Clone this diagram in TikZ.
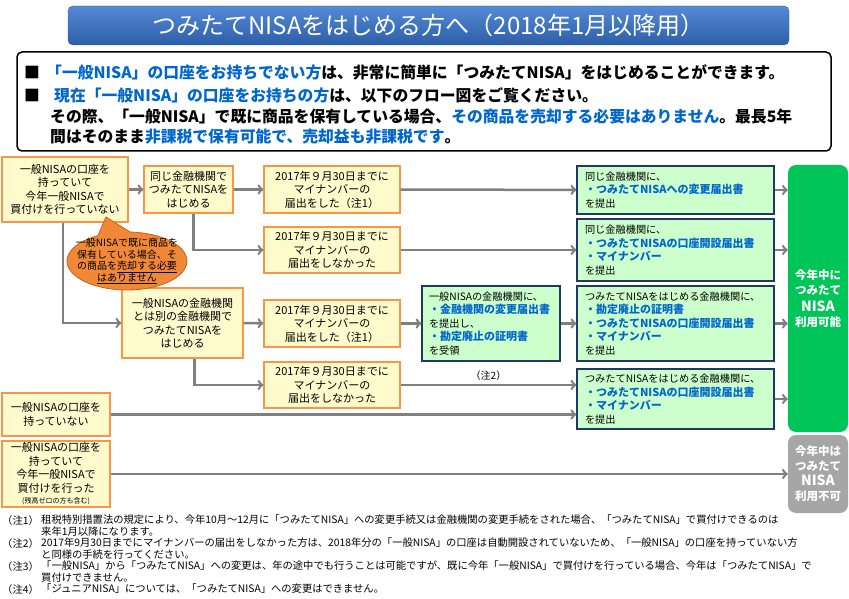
\documentclass[tikz,border=0pt]{standalone}
\usepackage{fontspec}
\setmainfont{Noto Sans CJK JP}
\usetikzlibrary{shapes.callouts}
\definecolor{titleA}{RGB}{86,138,214}
\definecolor{titleB}{RGB}{44,94,168}
\definecolor{hblue}{RGB}{0,102,204}
\definecolor{yfill}{RGB}{255,250,204}
\definecolor{yline}{RGB}{247,150,70}
\definecolor{gfill}{RGB}{204,255,204}
\definecolor{gline}{RGB}{31,56,100}
\definecolor{okgreen}{RGB}{0,198,90}
\definecolor{nggray}{RGB}{166,166,166}
\definecolor{arrgray}{RGB}{128,128,128}
\definecolor{balloon}{RGB}{240,136,56}
\definecolor{balloonline}{RGB}{196,98,30}
\newcommand{\hl}[1]{{\bfseries\fontsize{11}{13.5}\selectfont\color{hblue}#1}}
\tikzset{x=1pt, y=-1pt,
  ybox/.style={draw=yline, fill=yfill, line width=1.2pt, align=center, inner sep=0pt, font=\fontsize{11}{13.5}\selectfont},
  gbox/.style={draw=gline, fill=gfill, line width=1.2pt, align=left, inner xsep=8pt, inner ysep=0pt, font=\fontsize{10.2}{13.5}\selectfont},
  endbox/.style={rounded corners=8pt, text=white, align=center, minimum width=60, font=\bfseries\fontsize{11.5}{15}\selectfont},
  conn/.style={->, draw=arrgray, line width=2.5pt},
  info/.style={inner sep=0pt, anchor=base west, font=\bfseries\fontsize{15.8}{18}\selectfont},
  note/.style={inner sep=0pt, anchor=north west, align=left, font=\fontsize{10.3}{11.5}\selectfont}
}
\begin{document}
\begin{tikzpicture}
\useasboundingbox (0,0) rectangle (849,599);

\node (title) [top color=titleA, bottom color=titleB, draw=titleB, rounded corners=5pt, minimum width=721, minimum height=39, text=white, font=\fontsize{24}{28}\selectfont] at (428.5,25.5) {つみたてNISAをはじめる方へ（2018年1月以降用）};

\node (info) [draw, line width=1.5pt, rounded corners=5pt, minimum width=814, minimum height=99] at (424,101.5) {};
\node[info] at (24,79) {■};
\node[info] at (46,79) {\textcolor{hblue}{「一般NISA」の口座をお持ちでない方}は、非常に簡単に「つみたてNISA」をはじめることができます。};
\node[info] at (24,102) {■};
\node[info] at (54,102) {\textcolor{hblue}{現在「一般NISA」の口座をお持ちの方}は、以下のフロー図をご覧ください。};
\node[info] at (50,123) {その際、「一般NISA」で既に商品を保有している場合、\textcolor{hblue}{その商品を売却する必要はありません}。最長5年};
\node[info] at (50,143) {間はそのまま\textcolor{hblue}{非課税で保有可能で、売却益も非課税です}。};

\node (a) [ybox, minimum width=126, minimum height=65] at (65,189.5) {一般NISAの口座を\\持っていて\\今年一般NISAで\\買付けを行っていない};
\node (b) [ybox, minimum width=89, minimum height=47] at (188.5,189.5) {同じ金融機関で\\つみたてNISAを\\はじめる};
\node (c) [ybox, minimum width=136, minimum height=47] at (332,189.5) {2017年９月30日までに\\マイナンバーの\\届出をした（注1）};
\node (d) [ybox, minimum width=136, minimum height=46] at (332,250) {2017年９月30日までに\\マイナンバーの\\届出をしなかった};
\node (e) [ybox, minimum width=121, minimum height=70] at (182.5,323) {一般NISAの金融機関\\とは別の金融機関で\\つみたてNISAを\\はじめる};
\node (f) [ybox, minimum width=136, minimum height=47] at (332,323.5) {2017年９月30日までに\\マイナンバーの\\届出をした（注1）};
\node (g) [ybox, minimum width=136, minimum height=46] at (332,385) {2017年９月30日までに\\マイナンバーの\\届出をしなかった};
\node (h) [ybox, minimum width=108, minimum height=43] at (56,414.5) {一般NISAの口座を\\持っていない};
\node (i) [ybox, minimum width=108, minimum height=66] at (56,474) {一般NISAの口座を\\持っていて\\今年一般NISAで\\買付けを行った\\[-2pt]{\fontsize{7}{8}\selectfont (残高ゼロの方も含む)}};

\node (j) [gbox, text width=181, minimum height=48] at (675.5,190) {同じ金融機関に、\\\hl{・つみたてNISAへの変更届出書}\\を提出};
\node (k) [gbox, text width=181, minimum height=62] at (675.5,250) {同じ金融機関に、\\\hl{・つみたてNISAの口座開設届出書}\\\hl{・マイナンバー}\\を提出};
\node (l) [gbox, inner xsep=7pt, text width=124, minimum height=75] at (491,323.5) {一般NISAの金融機関に、\\\hl{・金融機関の変更届出書}\\を提出し、\\\hl{・勘定廃止の証明書}\\を受領};
\node (m) [gbox, text width=181, minimum height=75] at (675.5,323.5) {つみたてNISAをはじめる金融機関に、\\\hl{・勘定廃止の証明書}\\\hl{・つみたてNISAの口座開設届出書}\\\hl{・マイナンバー}\\を提出};
\node (n) [gbox, text width=181, minimum height=60] at (675.5,399) {つみたてNISAをはじめる金融機関に、\\\hl{・つみたてNISAの口座開設届出書}\\\hl{・マイナンバー}\\を提出};

\node (ok) [endbox, fill=okgreen, minimum height=267] at (818,298.5) {今年中に\\つみたて\\[2pt]{\fontsize{14}{16}\selectfont NISA}\\利用可能};
\node (ng) [endbox, fill=nggray, minimum height=78] at (818,474) {今年中は\\つみたて\\{\fontsize{14}{16}\selectfont NISA}\\利用不可};

\draw[conn] (a) -- (b);
\draw[conn] (b) -- (c);
\draw[conn] ([xshift=5]b.south) |- (d);
\draw[conn] (c) -- (j);
\draw[conn] (d) -- (k);
\draw[conn] ([xshift=-2]a.south) |- (e);
\draw[conn] (e) -- (f);
\draw[conn] ([xshift=12]e.south) |- (g);
\draw[conn] (f) -- (l);
\draw[conn] (l) -- (m);
\draw[conn] (g.east) -- (g.east -| n.west) node[midway, above, font=\fontsize{10}{12}\selectfont] {（注2）};
\draw[conn] (h.east) -- (h.east -| n.west);
\draw[conn] (i) -- (ng);
\draw[conn] (j) -- (j -| ok.west);
\draw[conn] (k) -- (k -| ok.west);
\draw[conn] (m) -- (m -| ok.west);
\draw[conn] (n) -- (n -| ok.west);

\node (bal) [ellipse callout, draw=balloonline, fill=balloon, line width=0.8pt, minimum width=120, minimum height=58, inner sep=0pt, callout absolute pointer={(106,217)}, callout pointer arc=32] at (127,261) {};
\node (baltext) [align=center, inner sep=0pt, font=\fontsize{10}{11.5}\selectfont] at (bal.center) {一般NISAで既に商品を\\保有している場合、そ\\の商品を\underline{売却する必要}\\\underline{はありません}};

\node[note] (fn1) at (2,515) {（注1）};
\node[note] (ft1) at (41,515) {租税特別措置法の規定により、今年10月～12月に「つみたてNISA」への変更手続又は金融機関の変更手続をされた場合、「つみたてNISA」で買付けできるのは\\来年1月以降になります。};
\node[note] (fn2) at (2,538) {（注2）};
\node[note] (ft2) at (41,538) {2017年9月30日までにマイナンバーの届出をしなかった方は、2018年分の「一般NISA」の口座は自動開設されていないため、「一般NISA」の口座を持っていない方\\と同様の手続を行ってください。};
\node[note] (fn3) at (2,561) {（注3）};
\node[note] (ft3) at (41,561) {「一般NISA」から「つみたてNISA」への変更は、年の途中でも行うことは可能ですが、既に今年「一般NISA」で買付けを行っている場合、今年は「つみたてNISA」で\\買付けできません。};
\node[note] (fn4) at (2,584) {（注4）};
\node[note] (ft4) at (41,584) {「ジュニアNISA」については、「つみたてNISA」への変更はできません。};
\end{tikzpicture}
\end{document}
